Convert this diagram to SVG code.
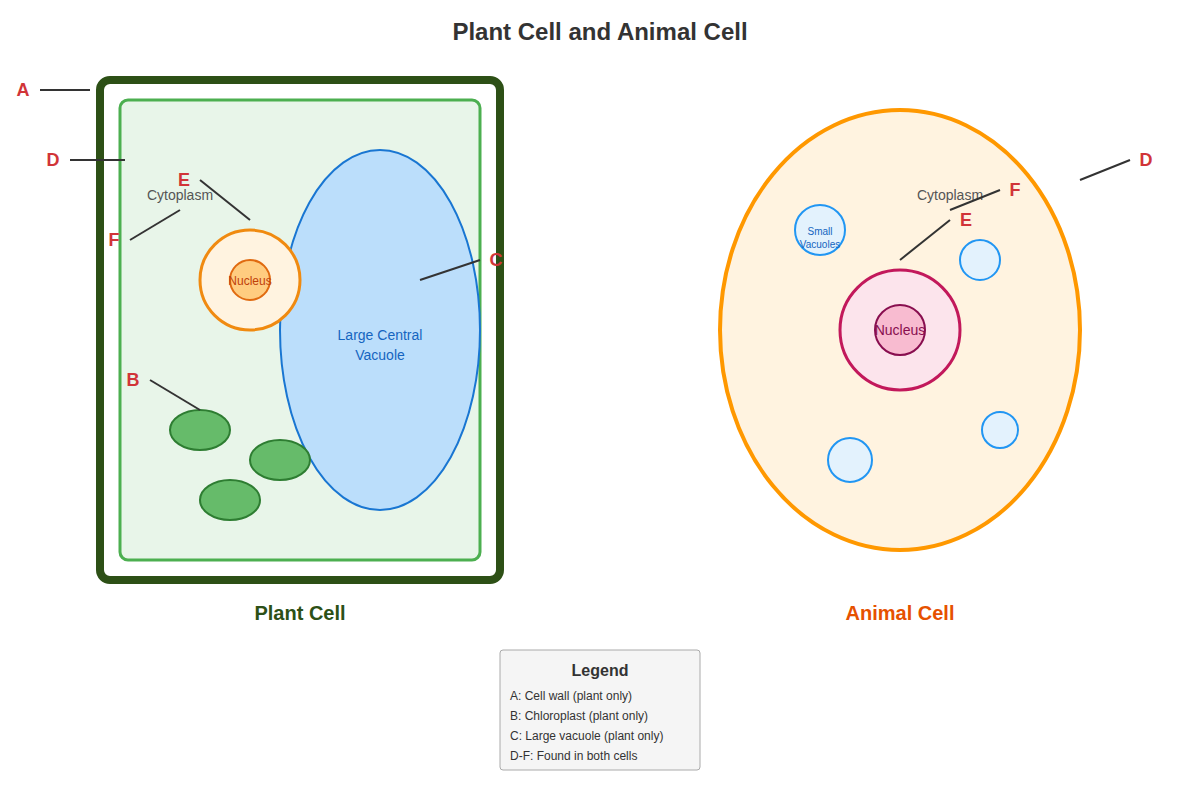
<svg xmlns="http://www.w3.org/2000/svg" width="1200" height="800" viewBox="0 0 1200 800">
<style>
text{font-family:"Liberation Sans",Arial,sans-serif}
.lbl{fill:#d13438;font-size:18px;font-weight:bold}
.ln{stroke:#333;stroke-width:2;fill:none}
.small{font-size:14px;fill:#555}
.leg{font-size:12px;fill:#333}
</style>
<rect width="1200" height="800" fill="#fff"/>
<text x="600" y="40" text-anchor="middle" font-size="24" font-weight="bold" fill="#333">Plant Cell and Animal Cell</text>
<g id="plant-cell">
<rect x="100" y="80" width="400" height="500" rx="10" fill="#fff" stroke="#2d5016" stroke-width="8"/>
<rect x="120" y="100" width="360" height="460" rx="8" fill="#e8f5e9" stroke="#4caf50" stroke-width="3"/>
<ellipse cx="380" cy="330" rx="100" ry="180" fill="#bbdefb" stroke="#1976d2" stroke-width="2"/>
<text x="380" y="340" text-anchor="middle" font-size="14" fill="#1565c0">Large Central</text>
<text x="380" y="360" text-anchor="middle" font-size="14" fill="#1565c0">Vacuole</text>
<circle cx="250" cy="280" r="50" fill="#fff3e0" stroke="#f08a10" stroke-width="3"/>
<circle cx="250" cy="280" r="20" fill="#ffcc80" stroke="#e06a10" stroke-width="2"/>
<text x="250" y="285" text-anchor="middle" font-size="12" fill="#c0400a">Nucleus</text>
<ellipse cx="200" cy="430" rx="30" ry="20" fill="#66bb6a" stroke="#2e7d32" stroke-width="2"/>
<ellipse cx="280" cy="460" rx="30" ry="20" fill="#66bb6a" stroke="#2e7d32" stroke-width="2"/>
<ellipse cx="230" cy="500" rx="30" ry="20" fill="#66bb6a" stroke="#2e7d32" stroke-width="2"/>
<text x="180" y="200" text-anchor="middle" class="small">Cytoplasm</text>
<text x="300" y="620" text-anchor="middle" font-size="20" font-weight="bold" fill="#2d5016">Plant Cell</text>
</g>
<g id="animal-cell">
<ellipse cx="900" cy="330" rx="180" ry="220" fill="#fff3e0" stroke="#ff9800" stroke-width="4"/>
<circle cx="900" cy="330" r="60" fill="#fce4ec" stroke="#c2185b" stroke-width="3"/>
<circle cx="900" cy="330" r="25" fill="#f8bbd0" stroke="#880e4f" stroke-width="2"/>
<text x="900" y="335" text-anchor="middle" font-size="14" fill="#880e4f">Nucleus</text>
<circle cx="820" cy="230" r="25" fill="#e3f2fd" stroke="#2196f3" stroke-width="2"/>
<text x="820" y="235" text-anchor="middle" font-size="10" fill="#1565c0">Small</text>
<text x="820" y="248" text-anchor="middle" font-size="10" fill="#1565c0">Vacuoles</text>
<circle cx="980" cy="260" r="20" fill="#e3f2fd" stroke="#2196f3" stroke-width="2"/>
<circle cx="850" cy="460" r="22" fill="#e3f2fd" stroke="#2196f3" stroke-width="2"/>
<circle cx="1000" cy="430" r="18" fill="#e3f2fd" stroke="#2196f3" stroke-width="2"/>
<text x="950" y="200" text-anchor="middle" class="small">Cytoplasm</text>
<text x="900" y="620" text-anchor="middle" font-size="20" font-weight="bold" fill="#e65100">Animal Cell</text>
</g>
<g id="connectors">
<line class="ln" x1="40" y1="90" x2="90" y2="90"/>
<line class="ln" x1="70" y1="160" x2="125" y2="160"/>
<line class="ln" x1="200" y1="180" x2="250" y2="220"/>
<line class="ln" x1="130" y1="240" x2="180" y2="210"/>
<line class="ln" x1="420" y1="280" x2="480" y2="260"/>
<line class="ln" x1="150" y1="380" x2="200" y2="410"/>
<line class="ln" x1="1080" y1="180" x2="1130" y2="160"/>
<line class="ln" x1="950" y1="210" x2="1000" y2="190"/>
<line class="ln" x1="900" y1="260" x2="950" y2="220"/>
</g>
<g id="labels">
<text x="23" y="96" text-anchor="middle" class="lbl">A</text>
<text x="53" y="166" text-anchor="middle" class="lbl">D</text>
<text x="184" y="186" text-anchor="middle" class="lbl">E</text>
<text x="114" y="246" text-anchor="middle" class="lbl">F</text>
<text x="496" y="266" text-anchor="middle" class="lbl">C</text>
<text x="133" y="386" text-anchor="middle" class="lbl">B</text>
<text x="1146" y="166" text-anchor="middle" class="lbl">D</text>
<text x="1015" y="196" text-anchor="middle" class="lbl">F</text>
<text x="966" y="226" text-anchor="middle" class="lbl">E</text>
</g>
<g id="legend">
<rect x="500" y="650" width="200" height="120" rx="3" fill="#f5f5f5" stroke="#aaa" stroke-width="1"/>
<text x="600" y="676" text-anchor="middle" font-size="16" font-weight="bold" fill="#333">Legend</text>
<text x="510" y="700" class="leg">A: Cell wall (plant only)</text>
<text x="510" y="720" class="leg">B: Chloroplast (plant only)</text>
<text x="510" y="740" class="leg">C: Large vacuole (plant only)</text>
<text x="510" y="760" class="leg">D-F: Found in both cells</text>
</g>
</svg>
